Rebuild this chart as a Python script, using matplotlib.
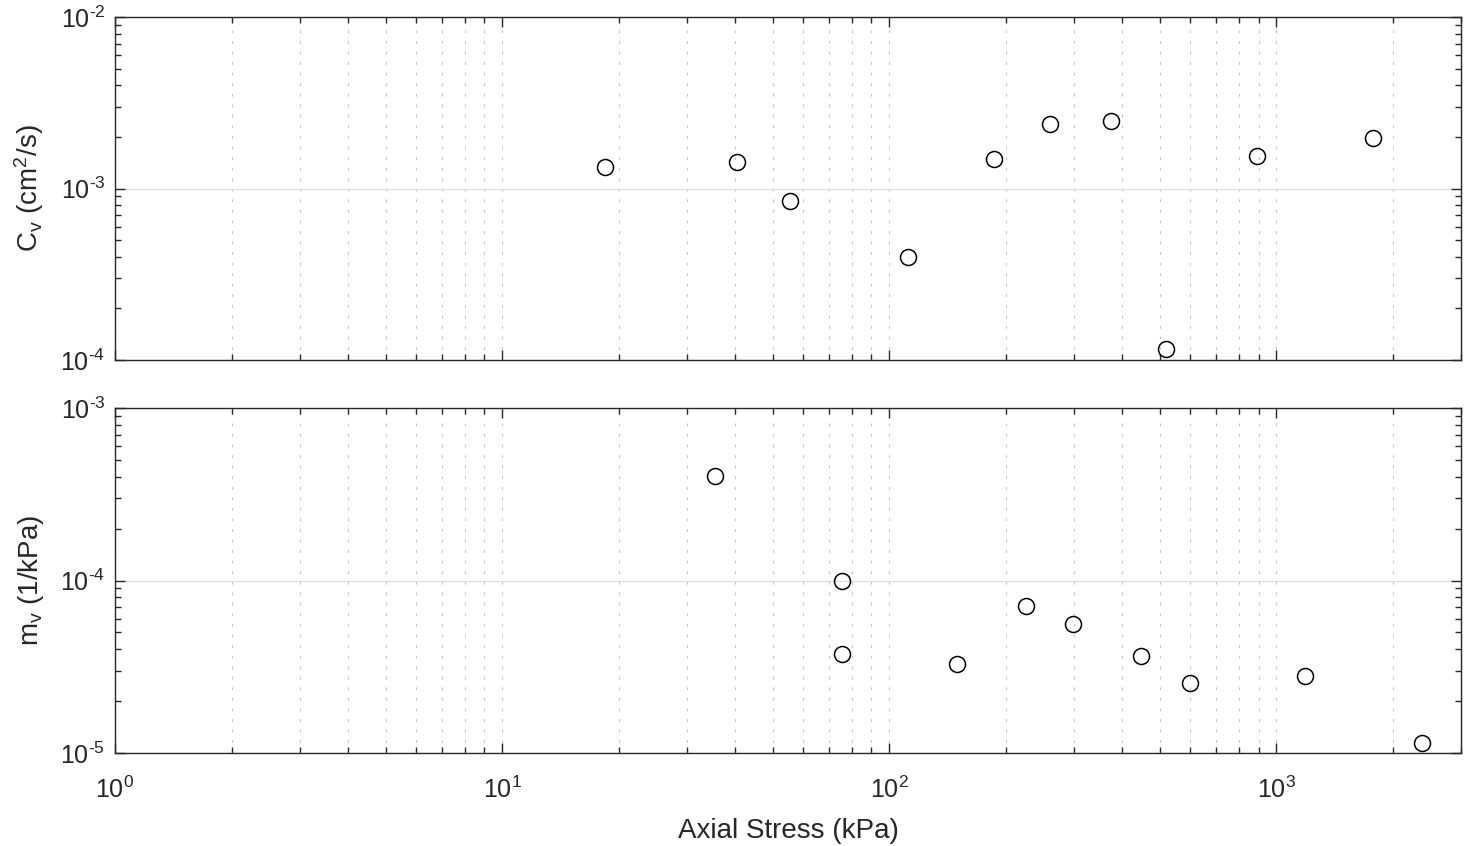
import math
import matplotlib
matplotlib.use("Agg")
import matplotlib.pyplot as plt
from matplotlib.ticker import LogLocator, NullFormatter, FuncFormatter

# ---- data ----
cv_stress = [18.4, 40.4, 55.3, 112, 187, 261, 373, 520, 894, 1782]
cv_values = [1.33e-3, 1.42e-3, 8.4e-4, 4.0e-4, 1.48e-3, 2.39e-3, 2.49e-3, 1.16e-4, 1.54e-3, 1.98e-3]

mv_stress = [35.4, 75.3, 75.3, 150, 225, 299, 448, 597, 1189, 2384]
mv_values = [4.06e-4, 9.9e-5, 3.77e-5, 3.30e-5, 7.16e-5, 5.56e-5, 3.67e-5, 2.56e-5, 2.78e-5, 1.14e-5]

x_limits = (1, 3000)
cv_limits = (1e-4, 1e-2)
mv_limits = (1e-5, 1e-3)
x_label = "Axial Stress (kPa)"
cv_label = r"C$_\mathregular{v}$ (cm$^\mathregular{2}$/s)"
mv_label = r"m$_\mathregular{v}$ (1/kPa)"

plt.rcParams["font.family"] = ["Liberation Sans", "DejaVu Sans"]
plt.rcParams["mathtext.fontset"] = "custom"
plt.rcParams["mathtext.rm"] = "Liberation Sans"
plt.rcParams["mathtext.it"] = "Liberation Sans:italic"
plt.rcParams["mathtext.bf"] = "Liberation Sans:bold"
plt.rcParams["mathtext.fallback"] = "stix"
plt.rcParams["axes.unicode_minus"] = False

AX_COL = "#262626"
TICK_FS = 18
LABEL_FS = 20


def pow10_fmt(v, pos):
    if v <= 0:
        return ""
    e = int(round(math.log10(v)))
    es = str(e).replace("-", "\u2010")
    return r"$\mathregular{10^{%s}}$" % es


fig = plt.figure(figsize=(14.69, 8.46), dpi=100)
W, H = 1469, 846


def frac(l, t, r, b):
    return [l / W, 1 - b / H, (r - l) / W, (b - t) / H]


ax1 = fig.add_axes(frac(115, 17, 1461, 360))
ax2 = fig.add_axes(frac(115, 408, 1461, 753))

for ax, xs, ys, ylim, ylab in [(ax1, cv_stress, cv_values, cv_limits, cv_label),
                               (ax2, mv_stress, mv_values, mv_limits, mv_label)]:
    ax.set_xscale("log")
    ax.set_yscale("log")
    ax.plot(xs, ys, linestyle="none", marker="o", markersize=11.5,
            markerfacecolor="none", markeredgecolor="black", markeredgewidth=1.1,
            zorder=5, clip_on=False)
    ax.set_xlim(*x_limits)
    ax.set_ylim(*ylim)
    ax.xaxis.set_major_locator(LogLocator(base=10, numticks=10))
    ax.xaxis.set_minor_locator(LogLocator(base=10, subs=range(2, 10), numticks=20))
    ax.xaxis.set_major_formatter(FuncFormatter(pow10_fmt))
    ax.xaxis.set_minor_formatter(NullFormatter())
    ax.yaxis.set_major_locator(LogLocator(base=10, numticks=10))
    ax.yaxis.set_minor_locator(LogLocator(base=10, subs=range(2, 10), numticks=20))
    ax.yaxis.set_major_formatter(FuncFormatter(pow10_fmt))
    ax.yaxis.set_minor_formatter(NullFormatter())
    ax.grid(True, which="major", axis="y", color="#dcdcdc", linestyle="-", linewidth=0.9)
    ax.grid(True, which="both", axis="x", color="#c4c4c4", linestyle=(0, (2.5, 7)), linewidth=0.8)
    ax.set_axisbelow(True)
    ax.tick_params(which="both", direction="in", top=True, right=True, colors=AX_COL,
                   labelsize=TICK_FS, width=1.0)
    ax.tick_params(which="major", length=7)
    ax.tick_params(which="minor", length=4)
    ax.tick_params(axis="y", pad=7)
    ax.tick_params(axis="x", pad=17)
    for s in ax.spines.values():
        s.set_color(AX_COL)
        s.set_linewidth(1.0)
    ax.set_ylabel(ylab, fontsize=LABEL_FS, color=AX_COL, labelpad=10)

ax1.tick_params(axis="x", labelbottom=False)
ax2.set_xlabel(x_label, fontsize=LABEL_FS, color=AX_COL, labelpad=11)

fig.savefig("out.png", dpi=100)
